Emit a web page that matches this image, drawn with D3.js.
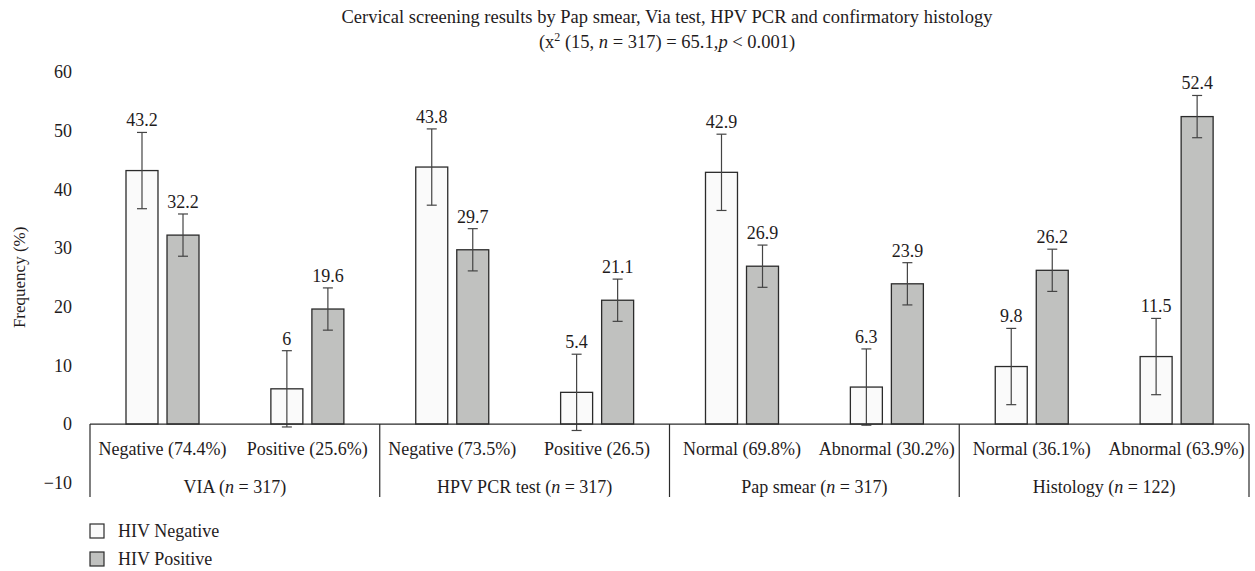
<!DOCTYPE html>
<html>
<head>
<meta charset="utf-8">
<script src="https://cdn.jsdelivr.net/npm/d3@7"></script>
<style>
  body { margin: 0; background: #fff; }
  svg text { font-family: "Liberation Serif", "DejaVu Serif", serif; fill: #1f1c1d; }
</style>
</head>
<body>
<div id="chart"></div>
<script>
const W = 1255, H = 571;
const MARGIN = {left: 90, right: 6, top: 72, bottom: 88};
const FS = "18px";

// data
const groupNames = ["VIA", "HPV PCR test", "Pap smear", "Histology"];
const groupN = [317, 317, 317, 122];
const subLabels = ["Negative (74.4%)", "Positive (25.6%)", "Negative (73.5%)", "Positive (26.5)",
                   "Normal (69.8%)", "Abnormal (30.2%)", "Normal (36.1%)", "Abnormal (63.9%)"];
const seriesNames = ["HIV Negative", "HIV Positive"];
const hivNegative = [43.2, 6, 43.8, 5.4, 42.9, 6.3, 9.8, 11.5];
const hivPositive = [32.2, 19.6, 29.7, 21.1, 26.9, 23.9, 26.2, 52.4];
const hivNegativeErr = [6.5, 6.5, 6.5, 6.5, 6.5, 6.5, 6.5, 6.5];
const hivPositiveErr = [3.6, 3.6, 3.6, 3.6, 3.6, 3.6, 3.6, 3.6];
const yTicks = [-10, 0, 10, 20, 30, 40, 50, 60];

const fills = ["#fafafa", "#c0c1bf"];
const STROKE = "#2b2b2b";

const svg = d3.select("#chart").append("svg")
  .attr("width", W).attr("height", H);

const x0 = d3.scaleBand()
  .domain(subLabels)
  .range([MARGIN.left, 1249])
  .padding(0);

const x1 = d3.scaleBand()
  .domain(seriesNames)
  .range([36, 109])
  .paddingInner(0.22);

const y = d3.scaleLinear()
  .domain([-10, 60])
  .range([482.7, 72]);

// title
svg.append("text")
  .attr("x", 667).attr("y", 23)
  .attr("text-anchor", "middle")
  .attr("font-size", "18.5px")
  .text("Cervical screening results by Pap smear, Via test, HPV PCR and confirmatory histology");

const sub = svg.append("text")
  .attr("x", 667).attr("y", 48)
  .attr("text-anchor", "middle")
  .attr("font-size", "18.5px");
sub.append("tspan").text("(x");
sub.append("tspan").attr("font-size", "12px").attr("dy", -7).text("2");
sub.append("tspan").attr("dy", 7).text(" (15, ");
sub.append("tspan").attr("font-style", "italic").text("n");
sub.append("tspan").text(" = 317) = 65.1,");
sub.append("tspan").attr("font-style", "italic").text("p");
sub.append("tspan").text(" < 0.001)");

// y axis labels only
const yAxis = d3.axisLeft(y).tickValues(yTicks).tickSize(0).tickPadding(0)
  .tickFormat(d => d < 0 ? "\u2212" + Math.abs(d) : d);
svg.append("g")
  .attr("transform", "translate(72,0)")
  .call(yAxis)
  .call(g => g.select(".domain").remove())
  .call(g => g.selectAll("text")
    .attr("font-size", FS)
    .attr("font-family", "Liberation Serif, serif")
    .attr("fill", "#1f1c1d"));

svg.append("text")
  .attr("transform", `translate(25,${(y(60) + y(-10)) / 2}) rotate(-90)`)
  .attr("text-anchor", "middle")
  .attr("font-size", "17px")
  .text("Frequency (%)");

// bars
const rows = subLabels.map((s, i) => ({
  sub: s,
  vals: [
    {series: seriesNames[0], v: hivNegative[i], e: hivNegativeErr[i], k: 0},
    {series: seriesNames[1], v: hivPositive[i], e: hivPositiveErr[i], k: 1}
  ]
}));

const cat = svg.append("g").selectAll("g")
  .data(rows).join("g")
  .attr("transform", d => `translate(${x0(d.sub)},0)`);

const bar = cat.selectAll("g.bar")
  .data(d => d.vals).join("g").attr("class", "bar");

bar.append("rect")
  .attr("x", d => x1(d.series))
  .attr("width", x1.bandwidth())
  .attr("y", d => y(d.v))
  .attr("height", d => y(0) - y(d.v))
  .attr("fill", d => fills[d.k])
  .attr("stroke", STROKE)
  .attr("stroke-width", 1.3);

const cx = d => x1(d.series) + x1.bandwidth() / 2;
bar.append("line")
  .attr("x1", cx).attr("x2", cx)
  .attr("y1", d => y(d.v + d.e)).attr("y2", d => y(d.v - d.e))
  .attr("stroke", "#444").attr("stroke-width", 1.2);
[1, -1].forEach(s => {
  bar.append("line")
    .attr("x1", d => cx(d) - 5).attr("x2", d => cx(d) + 5)
    .attr("y1", d => y(d.v + s * d.e)).attr("y2", d => y(d.v + s * d.e))
    .attr("stroke", "#444").attr("stroke-width", 1.2);
});

bar.append("text")
  .attr("x", cx)
  .attr("y", d => y(d.v + d.e) - 6)
  .attr("text-anchor", "middle")
  .attr("font-size", FS)
  .text(d => d.v);

// category axis: baseline, separators, labels
svg.append("line")
  .attr("x1", x0.range()[0]).attr("x2", x0.range()[1])
  .attr("y1", y(0)).attr("y2", y(0))
  .attr("stroke", STROKE).attr("stroke-width", 1.2);

const sepX = [0, 2, 4, 6].map(i => x0(subLabels[i])).concat([x0.range()[1]]);
svg.append("g").selectAll("line")
  .data(sepX).join("line")
  .attr("x1", d => d).attr("x2", d => d)
  .attr("y1", y(0)).attr("y2", 497)
  .attr("stroke", STROKE).attr("stroke-width", 1.2);

svg.append("g").selectAll("text")
  .data(subLabels).join("text")
  .attr("x", d => x0(d) + x0.bandwidth() / 2)
  .attr("y", 455)
  .attr("text-anchor", "middle")
  .attr("font-size", FS)
  .text(d => d);

const gl = svg.append("g").selectAll("text")
  .data(groupNames).join("text")
  .attr("x", (d, i) => x0(subLabels[i * 2]) + x0.bandwidth())
  .attr("y", 493)
  .attr("text-anchor", "middle")
  .attr("font-size", FS);
gl.append("tspan").text(d => d + " (");
gl.append("tspan").attr("font-style", "italic").text("n");
gl.append("tspan").text((d, i) => " = " + groupN[i] + ")");

// legend
const leg = svg.append("g").selectAll("g")
  .data(seriesNames).join("g")
  .attr("transform", (d, i) => `translate(90,${524 + i * 28})`);
leg.append("rect")
  .attr("width", 14).attr("height", 14)
  .attr("fill", (d, i) => fills[i])
  .attr("stroke", STROKE).attr("stroke-width", 1.2);
leg.append("text")
  .attr("x", 28).attr("y", 13)
  .attr("font-size", FS)
  .text(d => d);
</script>
</body>
</html>
